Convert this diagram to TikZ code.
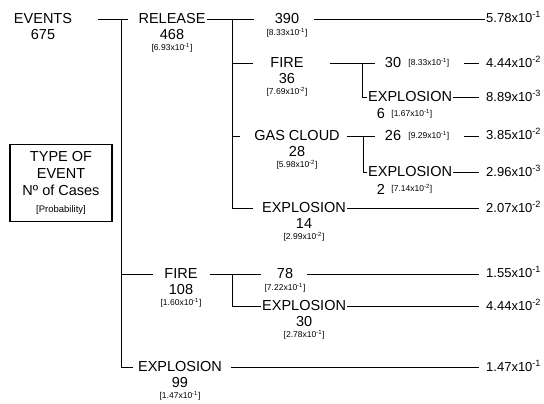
\documentclass[tikz,border=0pt]{standalone}
\usepackage{fontspec}
\setmainfont{Liberation Sans}
\usetikzlibrary{positioning}

\newcommand{\pval}[2]{[#1x10\textsuperscript{#2}]}
\newcommand{\fval}[2]{#1x10\textsuperscript{#2}}

\begin{document}
\begin{tikzpicture}[
  x=1pt,y=-1pt,
  lbl/.style={inner sep=1pt,font=\fontsize{14.5}{17}\selectfont},
  sublbl/.style={lbl,anchor=west},
  num/.style={lbl,below=3pt of #1},
  prb/.style={inner sep=1pt,font=\fontsize{8.5}{10}\selectfont},
  val/.style={inner sep=1pt,anchor=west,font=\fontsize{13}{15}\selectfont},
  ln/.style={line width=0.9pt}
]
\useasboundingbox (0,0) rectangle (544,404);

% root and key
\node[lbl] (events) at (43,19) {EVENTS};
\node[num=events] (eventsN) {675};
\node[draw,line width=1.2pt,minimum width=102pt,minimum height=77pt,align=center,inner sep=0pt,
  font=\fontsize{14.5}{17}\selectfont] (key) at (61,183)
  {TYPE OF\\EVENT\\Nº of Cases\\{\fontsize{9.5}{11}\selectfont[Probability]}};

% first level
\node[lbl] (rel) at (172,19) {RELEASE};
\node[num=rel] (relN) {468};
\node[prb,below=1.5pt of relN] (relP) {\pval{6.93}{-1}};
\node[lbl] (fire) at (181,274) {FIRE};
\node[num=fire] (fireN) {108};
\node[prb,below=1.5pt of fireN] (fireP) {\pval{1.60}{-1}};
\node[lbl] (expl) at (180,367) {EXPLOSION};
\node[num=expl] (explN) {99};
\node[prb,below=1.5pt of explN] (explP) {\pval{1.47}{-1}};

% under release
\node[lbl] (r390) at (287,19) {390};
\node[prb,below=2pt of r390] (r390P) {\pval{8.33}{-1}};
\node[lbl] (rfire) at (287,63) {FIRE};
\node[num=rfire] (rfireN) {36};
\node[prb,below=1.5pt of rfireN] (rfireP) {\pval{7.69}{-2}};
\node[lbl] (gas) at (297,136) {GAS CLOUD};
\node[num=gas] (gasN) {28};
\node[prb,below=1.5pt of gasN] (gasP) {\pval{5.98}{-2}};
\node[lbl] (rexpl) at (304,208) {EXPLOSION};
\node[num=rexpl] (rexplN) {14};
\node[prb,below=1.5pt of rexplN] (rexplP) {\pval{2.99}{-2}};

% third level
\node[lbl] (rf30) at (393,63) {30};
\node[prb,right=5pt of rf30] (rf30P) {\pval{8.33}{-1}};
\node[sublbl] (rfexpl) at (367,97) {EXPLOSION};
\node[lbl] (rf6) at (381,114) {6};
\node[prb,right=4pt of rf6] (rf6P) {\pval{1.67}{-1}};
\node[lbl] (g26) at (393,136) {26};
\node[prb,right=5pt of g26] (g26P) {\pval{9.29}{-1}};
\node[sublbl] (gexpl) at (367,172) {EXPLOSION};
\node[lbl] (g2) at (381,189) {2};
\node[prb,right=4pt of g2] (g2P) {\pval{7.14}{-2}};
\node[lbl] (f78) at (285,274) {78};
\node[prb,below=2pt of f78] (f78P) {\pval{7.22}{-1}};
\node[sublbl] (fexpl) at (261,306) {EXPLOSION};
\node[num=fexpl] (fexplN) {30};
\node[prb,below=1.5pt of fexplN] (fexplP) {\pval{2.78}{-1}};

% end values
\node[val] (v1) at (485,17) {\fval{5.78}{-1}};
\node[val] (v2) at (485,62) {\fval{4.44}{-2}};
\node[val] (v3) at (485,96) {\fval{8.89}{-3}};
\node[val] (v4) at (485,134) {\fval{3.85}{-2}};
\node[val] (v5) at (485,171) {\fval{2.96}{-3}};
\node[val] (v6) at (485,207) {\fval{2.07}{-2}};
\node[val] (v7) at (485,272) {\fval{1.55}{-1}};
\node[val] (v8) at (485,305) {\fval{4.44}{-2}};
\node[val] (v9) at (485,366) {\fval{1.47}{-1}};

\coordinate (mj) at (121,19);
\coordinate (rj) at (232,19);
\coordinate (rfj) at (362,63);
\coordinate (gj) at (363,136);
\coordinate (fj) at (232,274);

% branches
\draw[ln,shorten <=25pt,shorten >=9pt] (events) -- (rel);
\draw[ln,shorten >=10pt] (mj) |- (fire);
\draw[ln,shorten >=4pt] (mj) |- (expl);
\draw[ln,shorten >=20pt] (rel) -- (r390);
\draw[ln,shorten >=16pt] (rj) |- (rfire);
\draw[ln,shorten >=13pt] (rj) |- (gas);
\draw[ln,shorten >=8pt] (rj) |- (rexpl);
\draw[ln,shorten <=25pt,shorten >=9pt] (rfire) -- (rf30);
\draw[ln] (rfj) |- (rfexpl);
\draw[ln,shorten <=6pt,shorten >=9pt] (gas) -- (g26);
\draw[ln] (gj) |- (gexpl);
\draw[ln,shorten <=11pt,shorten >=15pt] (fire) -- (f78);
\draw[ln] (fj) |- (fexpl);

% to end values
\draw[ln,shorten <=14pt] (r390) -- (r390 -| v1.west);
\draw[ln,shorten <=14pt,shorten >=6pt] (rf30P) -- (rf30P -| v2.west);
\draw[ln,shorten >=6pt] (rfexpl) -- (rfexpl -| v3.west);
\draw[ln,shorten <=14pt,shorten >=6pt] (g26P) -- (g26P -| v4.west);
\draw[ln,shorten >=6pt] (gexpl) -- (gexpl -| v5.west);
\draw[ln,shorten >=6pt] (rexpl) -- (rexpl -| v6.west);
\draw[ln,shorten <=13pt,shorten >=6pt] (f78) -- (f78 -| v7.west);
\draw[ln,shorten >=6pt] (fexpl) -- (fexpl -| v8.west);
\draw[ln,shorten <=8pt,shorten >=6pt] (expl) -- (expl -| v9.west);
\end{tikzpicture}
\end{document}
